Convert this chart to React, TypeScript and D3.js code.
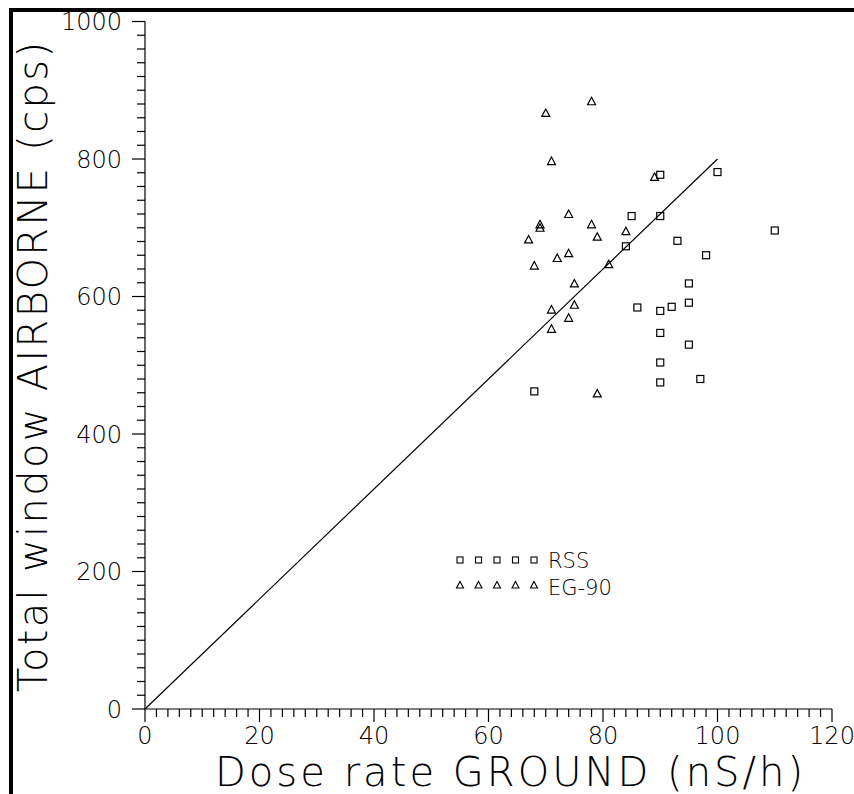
import React from "react";
import * as d3 from "d3";

const rssX = [68, 90, 100, 85, 90, 84, 93, 98, 110, 95, 95, 92, 90, 86, 90, 95, 90, 90, 97];
const rssY = [462, 777, 781, 717, 717, 673, 681, 660, 696, 619, 591, 585, 579, 584, 547, 530, 504, 475, 480];

const egX = [78, 70, 71, 89, 74, 69, 69, 78, 67, 79, 84, 72, 74, 68, 81, 75, 71, 75, 74, 71, 79];
const egY = [884, 867, 797, 774, 720, 705, 700, 705, 683, 687, 695, 656, 663, 645, 647, 619, 581, 588, 569, 553, 459];

const fitX = [0, 100];
const fitY = [0, 800];

const xMajorTicks = [0, 20, 40, 60, 80, 100, 120];
const yMajorTicks = [0, 200, 400, 600, 800, 1000];

const legendLabels = ["RSS", "EG-90"];
const xTitle = "Dose rate GROUND (nS/h)";
const yTitle = "Total window AIRBORNE (cps)";

const FONT = "'DejaVu Sans', sans-serif";

export default function App() {
  const W = 854, H = 794;
  const x = d3.scaleLinear().domain([0, 120]).range([145, 832]);
  const y = d3.scaleLinear().domain([0, 1000]).range([709, 21.5]);
  const xMinor = d3.range(0, 121, 2);
  const yMinor = d3.range(0, 1001, 20);
  const line = d3.line<number>().x((d, i) => x(fitX[i])).y((d, i) => y(fitY[i]));
  const sq = 7;
  const tri = (cx: number, cy: number, s: number) => {
    const h = s * 0.87;
    return `M${cx},${cy - h / 2 - 0.5}L${cx + s / 2},${cy + h / 2}L${cx - s / 2},${cy + h / 2}Z`;
  };
  const legX = d3.range(5).map((i) => 460 + i * 18.5);
  return (
    <svg width={W} height={H} style={{ position: "absolute", left: 0, top: 0, background: "#fff", overflow: "hidden" }}>
      <rect x={0} y={0} width={W} height={H} fill="#fff" />
      <line x1={11} x2={11} y1={8} y2={H} stroke="#000" strokeWidth={4} />
      <line x1={9} x2={W} y1={10} y2={10} stroke="#000" strokeWidth={4} />
      {/* axes */}
      <line x1={x(0)} x2={x(120)} y1={y(0)} y2={y(0)} stroke="#000" strokeWidth={1.2} />
      <line x1={x(0)} x2={x(0)} y1={y(0)} y2={y(1000)} stroke="#000" strokeWidth={1.2} />
      {xMinor.map((v) => (
        <line key={"xt" + v} x1={x(v)} x2={x(v)} y1={y(0)} y2={y(0) + (v % 20 === 0 ? 13 : 8)} stroke="#000" strokeWidth={1.2} />
      ))}
      {yMinor.map((v) => (
        <line key={"yt" + v} x1={x(0) - (v % 200 === 0 ? 13 : 8)} x2={x(0)} y1={y(v)} y2={y(v)} stroke="#000" strokeWidth={1.2} />
      ))}
      {xMajorTicks.map((v) => (
        <text key={"xl" + v} x={x(v)} y={744} textAnchor="middle" fontFamily={FONT} fontWeight={200} fontSize={24} fill="#000">{v}</text>
      ))}
      {yMajorTicks.map((v) => (
        <text key={"yl" + v} x={122} y={y(v) + 8.5} textAnchor="end" fontFamily={FONT} fontWeight={200} fontSize={24} fill="#000">{v}</text>
      ))}
      <text x={215} y={786} fontFamily={FONT} fontWeight={200} fontSize={40} textLength={588} lengthAdjust="spacing" fill="#000">{xTitle}</text>
      <text transform="translate(47,692) rotate(-90)" x={0} y={0} fontFamily={FONT} fontWeight={200} fontSize={40} textLength={650} lengthAdjust="spacing" fill="#000">{yTitle}</text>
      {/* fit line */}
      <path d={line(fitX) || ""} fill="none" stroke="#000" strokeWidth={1.2} />
      {/* RSS squares */}
      {rssX.map((v, i) => (
        <rect key={"r" + i} x={x(v) - sq / 2} y={y(rssY[i]) - sq / 2} width={sq} height={sq} fill="none" stroke="#000" strokeWidth={1.2} />
      ))}
      {egX.map((v, i) => (
        <path key={"e" + i} d={tri(x(v), y(egY[i]), 8)} fill="none" stroke="#000" strokeWidth={1.2} />
      ))}
      {/* legend */}
      {legX.map((lx, i) => (
        <rect key={"ls" + i} x={lx - 3} y={560 - 3} width={6} height={6} fill="none" stroke="#000" strokeWidth={1.1} />
      ))}
      {legX.map((lx, i) => (
        <path key={"lt" + i} d={tri(lx, 585, 7)} fill="none" stroke="#000" strokeWidth={1.1} />
      ))}
      <text x={548} y={568} fontFamily={FONT} fontWeight={200} fontSize={21} fill="#000">{legendLabels[0]}</text>
      <text x={548} y={595} fontFamily={FONT} fontWeight={200} fontSize={21} fill="#000">{legendLabels[1]}</text>
    </svg>
  );
}
